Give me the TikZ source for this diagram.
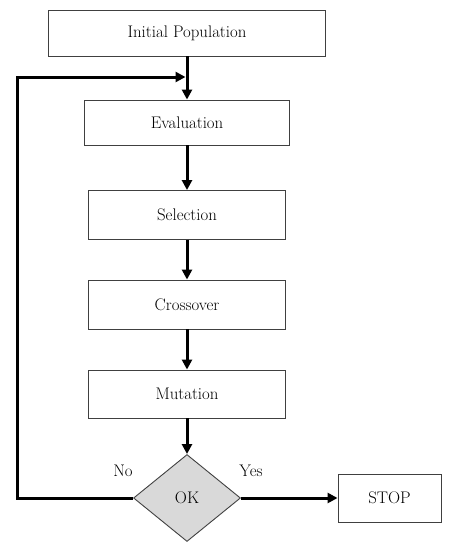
\documentclass[tikz,border=0pt]{standalone}
\usetikzlibrary{arrows.meta,shapes.geometric}
\begin{document}
\begin{tikzpicture}[x=1pt,y=-1pt,
  every node/.style={font=\fontsize{16.8}{19}\selectfont},
  stepbox/.style={draw=black!75,line width=0.9pt,inner sep=0pt,fill=white},
  flow/.style={line width=3pt,-{Triangle[width=10pt,length=10pt]}}]
\useasboundingbox (0,0) rectangle (449,550);
\node[stepbox,minimum width=277pt,minimum height=46pt] (init) at (187,33) {Initial Population};
\node[stepbox,minimum width=205pt,minimum height=45pt] (eval) at (187,122.5) {Evaluation};
\node[stepbox,minimum width=197pt,minimum height=49pt] (sel) at (187,215) {Selection};
\node[stepbox,minimum width=197pt,minimum height=49pt] (cross) at (187,304.5) {Crossover};
\node[stepbox,minimum width=197pt,minimum height=48pt] (mut) at (187,394) {Mutation};
\node[diamond,draw=black!75,line width=0.9pt,fill=black!15,inner sep=0pt,minimum width=107pt,minimum height=87pt] (ok) at (187,498) {OK};
\node[stepbox,minimum width=103pt,minimum height=48pt] (stop) at (389.5,498) {STOP};
\node (no) at (123,471) {No};
\node (yes) at (251,471) {Yes};
\coordinate (join) at (187,77);
\coordinate (cornerA) at (17,498);
\coordinate (cornerB) at (17,77);
\draw[flow] (init.south) -- (eval.north);
\draw[flow] (eval.south) -- (sel.north);
\draw[flow] (sel.south) -- (cross.north);
\draw[flow] (cross.south) -- (mut.north);
\draw[flow] (mut.south) -- (ok.north);
\draw[flow] (ok.east) -- (stop.west);
\draw[flow] (ok.west) -- (cornerA) -- (cornerB) -- ([xshift=-1.5pt]join);
\end{tikzpicture}
\end{document}
